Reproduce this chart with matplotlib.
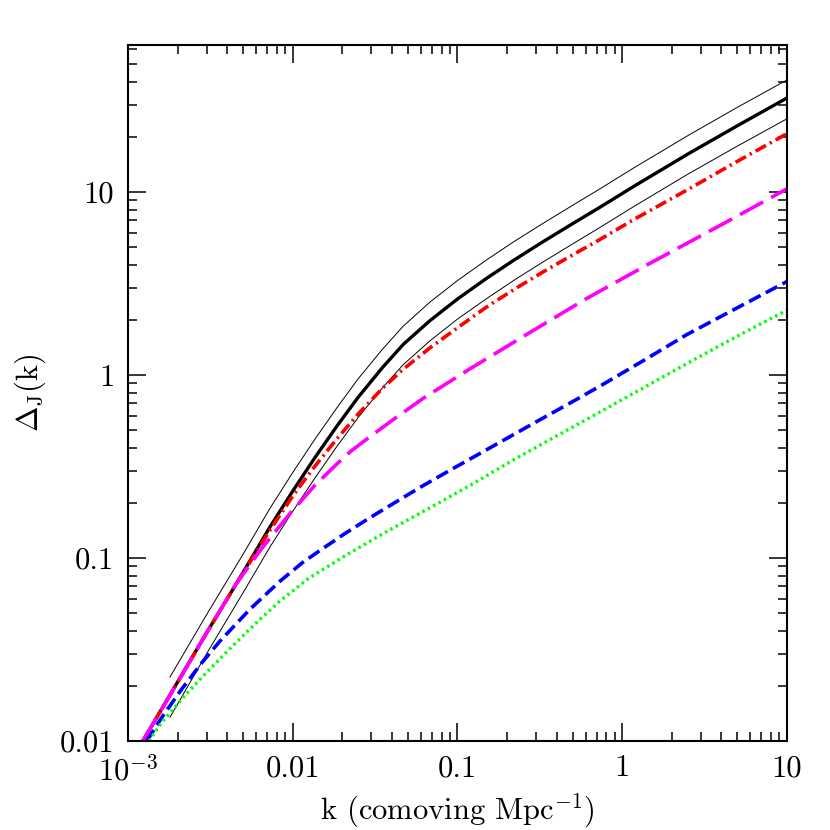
import matplotlib
matplotlib.use("Agg")
import matplotlib.pyplot as plt

plt.rcParams['font.family'] = ['cmr10', 'DejaVu Serif']
plt.rcParams['mathtext.fontset'] = 'cm'
plt.rcParams['axes.formatter.use_mathtext'] = True
plt.rcParams['lines.scale_dashes'] = False

# values (k in comoving Mpc^-1)
k_black = [0.00123, 0.002, 0.003, 0.005, 0.00728, 0.01, 0.0135, 0.0185, 0.025, 0.035,
           0.0469, 0.068, 0.1, 0.15, 0.22, 0.33, 0.5, 0.733, 1.17, 2.5, 5.0, 10.0]
d_black = [0.010, 0.0210, 0.039, 0.0835, 0.148, 0.232, 0.349, 0.524, 0.757, 1.096,
           1.47, 1.98, 2.60, 3.37, 4.24, 5.34, 6.71, 8.25, 10.7, 16.1, 23.0, 32.6]

k_thin = [0.0018, 0.003, 0.005, 0.00728, 0.01, 0.0135, 0.0185, 0.025, 0.035, 0.0469,
          0.068, 0.1, 0.15, 0.22, 0.33, 0.5, 0.733, 1.17, 2.5, 5.0, 10.0]
d_upper = [0.0224, 0.049, 0.105, 0.187, 0.293, 0.44, 0.66, 0.955, 1.38, 1.85,
           2.5, 3.28, 4.25, 5.35, 6.73, 8.45, 10.4, 13.5, 20.3, 29.0, 40.9]
d_lower = [0.0135, 0.030, 0.0647, 0.115, 0.180, 0.27, 0.406, 0.587, 0.85, 1.14,
           1.535, 2.02, 2.61, 3.29, 4.14, 5.2, 6.4, 8.3, 12.5, 17.8, 25.1]

k_red = [0.00123, 0.002, 0.003, 0.005, 0.00728, 0.01, 0.0135, 0.0185, 0.025, 0.035,
         0.0469, 0.068, 0.1, 0.15, 0.22, 0.33, 0.5, 0.733, 1.17, 2.5, 5.0, 10.0]
d_red = [0.010, 0.0209, 0.039, 0.083, 0.142, 0.218, 0.314, 0.447, 0.613, 0.844,
         1.076, 1.405, 1.81, 2.35, 2.93, 3.65, 4.53, 5.50, 7.05, 10.3, 14.7, 20.8]

k_mag = [0.00123, 0.002, 0.003, 0.0045, 0.00644, 0.00962, 0.0135, 0.0185, 0.0225,
         0.0281, 0.0418, 0.062, 0.119, 0.25, 0.6, 1.47, 4.0, 10.0]
d_mag = [0.010, 0.0209, 0.039, 0.0715, 0.112, 0.175, 0.247, 0.326, 0.383,
         0.446, 0.58, 0.746, 1.08, 1.62, 2.6, 4.07, 6.62, 10.4]

k_blue = [0.0013, 0.0016, 0.0021, 0.0028, 0.0036, 0.0055, 0.0084, 0.0115, 0.0153, 0.021,
          0.0294, 0.0592, 0.0945, 0.15, 0.3, 0.528, 0.767, 1.37, 2.46, 5.0, 10.0]
d_blue = [0.010, 0.0134, 0.0190, 0.0267, 0.0350, 0.0525, 0.0749, 0.0946, 0.113, 0.137,
          0.166, 0.243, 0.309, 0.39, 0.554, 0.735, 0.89, 1.21, 1.66, 2.33, 3.24]

k_green = [0.00134, 0.0016, 0.0022, 0.003, 0.0042, 0.0062, 0.0084, 0.0125, 0.0212, 0.038,
           0.068, 0.12, 0.218, 0.38, 0.528, 0.733, 1.4, 2.58, 5.0, 10.0]
d_green = [0.010, 0.0126, 0.0176, 0.0237, 0.0323, 0.0455, 0.0584, 0.0775, 0.104, 0.141,
           0.188, 0.250, 0.343, 0.453, 0.533, 0.628, 0.868, 1.18, 1.63, 2.26]

x_ticks = [1e-3, 0.01, 0.1, 1, 10]
x_labels = [r'$10^{-3}$', '0.01', '0.1', '1', '10']
y_ticks = [0.01, 0.1, 1, 10]
y_labels = ['0.01', '0.1', '1', '10']

fig = plt.figure(figsize=(8.3, 8.3), dpi=100)
ax = fig.add_axes([0.1542, 0.1072, 0.794, 0.8386])

ax.plot(k_thin, d_upper, color='black', lw=0.7)
ax.plot(k_thin, d_lower, color='black', lw=0.7)
ax.plot(k_black, d_black, color='black', lw=2.4)
ax.plot(k_red, d_red, color='red', lw=2.6, dashes=(8.5, 3.2, 1.6, 3.2))
ax.plot(k_mag, d_mag, color='magenta', lw=2.6, dashes=(19, 6.5))
ax.plot(k_blue, d_blue, color='blue', lw=2.6, dashes=(9.4, 4.2))
ax.plot(k_green, d_green, color='#00ff00', lw=2.4, dashes=(1.8, 2.6))

ax.set_xscale('log')
ax.set_yscale('log')
ax.set_xlim(1e-3, 10)
ax.set_ylim(0.01, 63.5)

ax.set_xticks(x_ticks, labels=x_labels)
ax.set_yticks(y_ticks, labels=y_labels)
ax.tick_params(which='both', direction='in', top=True, right=True, width=1.1)
ax.tick_params(which='major', length=13, pad=10, labelsize=22)
ax.tick_params(which='minor', length=6.5)
for s in ax.spines.values():
    s.set_linewidth(1.5)

ax.set_xlabel(r'k (comoving Mpc$^{-1}$)', fontsize=22, labelpad=4)
ax.set_ylabel(r'$\Delta_{\rm J}$(k)', fontsize=22, labelpad=8)

fig.savefig('out.png', dpi=100)
